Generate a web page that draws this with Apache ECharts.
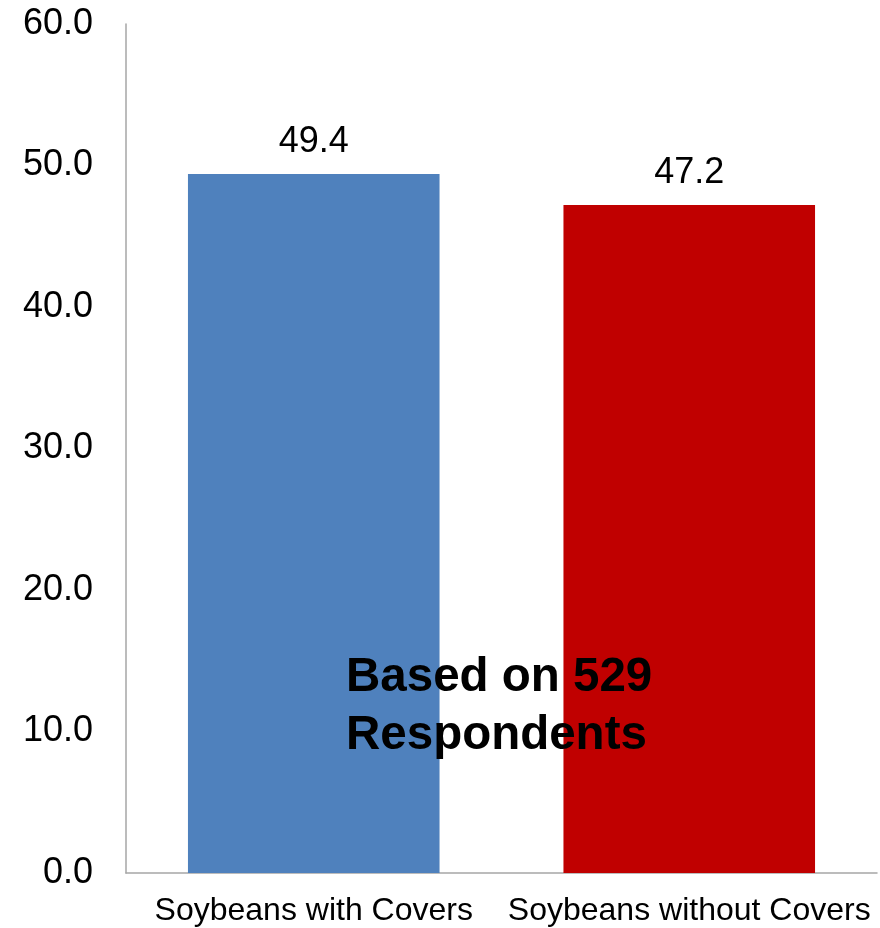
<!DOCTYPE html>
<html><head><meta charset="utf-8">
<script src="https://cdn.jsdelivr.net/npm/echarts@6/dist/echarts.min.js"></script>
<style>html,body{margin:0;padding:0;background:#fff}#c{width:880px;height:928px}</style>
</head><body><div id="c"></div>
<script>
const categories = ["Soybeans with Covers", "Soybeans without Covers"];
const values = [49.4, 47.2];
const barColors = ["#4F81BD", "#C00000"];
const yTicks = [0, 10, 20, 30, 40, 50, 60];
const note = "Based on 529\nRespondents";

const chart = echarts.init(document.getElementById('c'), null, {renderer: 'canvas'});
const font = '"Liberation Sans", Arial, sans-serif';
chart.setOption({
  animation: false,
  backgroundColor: '#fff',
  grid: {left: 126, right: 3, top: 24, bottom: 55},
  xAxis: {
    type: 'category', data: categories,
    axisLine: {lineStyle: {color: '#A6A6A6', width: 1.5}},
    axisTick: {show: false},
    axisLabel: {color: '#000', fontSize: 32, fontFamily: font, margin: 22, interval: 0}
  },
  yAxis: {
    type: 'value', min: yTicks[0], max: yTicks[yTicks.length-1], interval: 10,
    axisLine: {show: true, lineStyle: {color: '#A6A6A6', width: 1.5}},
    axisTick: {show: false},
    splitLine: {show: false},
    axisLabel: {color: '#000', fontSize: 36, fontFamily: font, margin: 33,
      formatter: v => v.toFixed(1)}
  },
  series: [{
    type: 'bar', barCategoryGap: '33%',
    data: values.map((v, i) => ({value: v, itemStyle: {color: barColors[i]}})),
    label: {show: true, position: 'top', distance: 14, color: '#000', fontSize: 36, fontFamily: font,
      formatter: p => p.value.toFixed(1)}
  }],
  graphic: [{
    type: 'text', left: 346, top: 649, z: 100,
    style: {text: note, fill: '#000', font: 'bold 47.5px ' + font, lineHeight: 58}
  }]
});
</script></body></html>
